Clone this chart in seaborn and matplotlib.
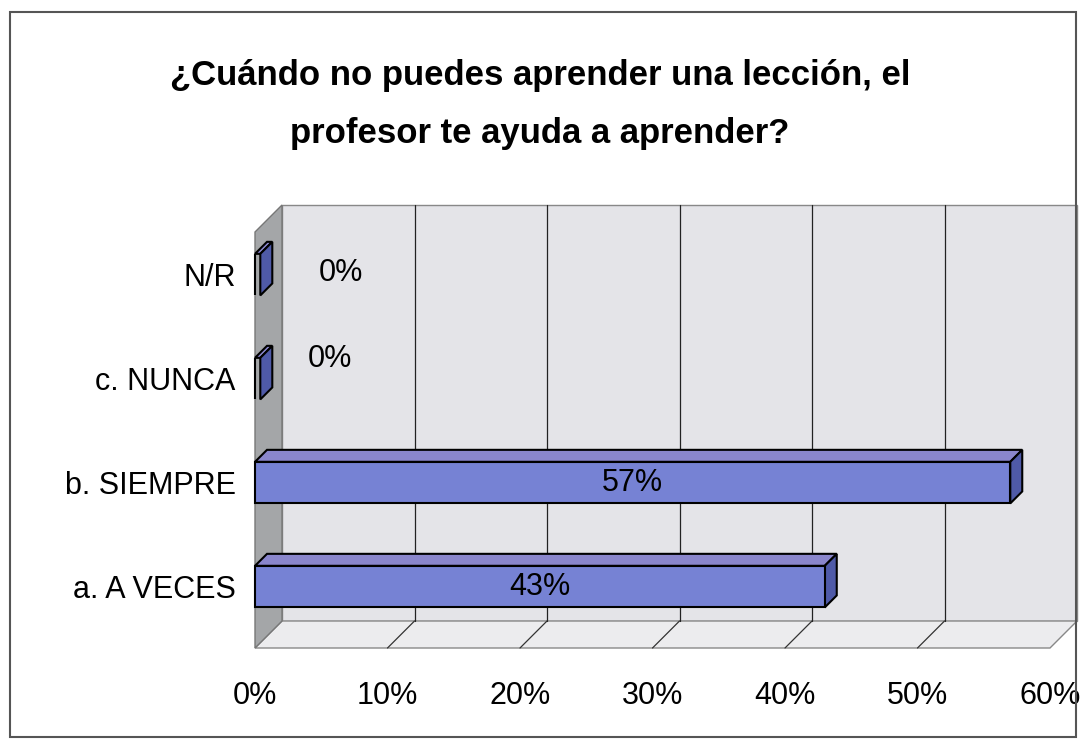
import matplotlib
matplotlib.use("Agg")
import matplotlib.pyplot as plt
import matplotlib.transforms as mtransforms
from matplotlib.patches import Polygon, Rectangle
import pandas as pd
import seaborn as sns

# Datos de la encuesta
categories = ["N/R", "c. NUNCA", "b. SIEMPRE", "a. A VECES"]
values = [0.0, 0.0, 0.57, 0.43]
value_labels = ["0%", "0%", "57%", "43%"]
xticks = [0.0, 0.1, 0.2, 0.3, 0.4, 0.5, 0.6]
xtick_labels = ["0%", "10%", "20%", "30%", "40%", "50%", "60%"]
title = "¿Cuándo no puedes aprender una lección, el\nprofesor te ayuda a aprender?"

BAR_COLOR = "#7682d4"
TOP_COLOR = "#8a86cc"
SIDE_COLOR = "#4f5aa8"
WALL_COLOR = "#e4e4e8"
FLOOR_COLOR = "#ececee"
SIDE_WALL = "#a4a6a8"

sns.set_style("white")
plt.rcParams["font.family"] = ["Liberation Sans Narrow", "Liberation Sans", "DejaVu Sans"]
plt.rcParams["text.color"] = "black"
plt.rcParams["xtick.color"] = "black"
plt.rcParams["ytick.color"] = "black"

df = pd.DataFrame({"cat": categories, "val": values})

fig = plt.figure(figsize=(10.8, 7.4), dpi=100)
fig.patch.set_facecolor("white")
# marco exterior del grafico
fig.add_artist(Rectangle((10 / 1080, 3 / 740), 1066 / 1080, 725 / 740, transform=fig.transFigure,
                         fill=False, edgecolor="#555555", lw=1.5))

ax = fig.add_axes([255 / 1080, 92 / 740, 795 / 1080, 416 / 740])
ax.set_xlim(0, 0.6)

# desplazamiento 3D (en pulgadas, dpi=100)
shift = mtransforms.ScaledTranslation(0.27, 0.27, fig.dpi_scale_trans)
back = ax.transAxes + shift
trans_x = mtransforms.blended_transform_factory(ax.transData, ax.transAxes)
back_x = trans_x + shift

# pared del fondo
ax.add_patch(Rectangle((0, 0), 1, 1, transform=back, facecolor=WALL_COLOR,
                       edgecolor="#888888", lw=1, zorder=0, clip_on=False))
for t in xticks[1:-1]:
    ax.plot([t, t], [0, 1], transform=back_x, color="#222222", lw=0.9, zorder=0.5, clip_on=False)

inv = fig.transFigure.inverted()
p0 = ax.transAxes.transform((0, 0))
p1 = ax.transAxes.transform((1, 0))
q0 = back.transform((0, 0))
q1 = back.transform((1, 0))
r0 = ax.transAxes.transform((0, 1))
r1 = back.transform((0, 1))

# piso
ax.add_patch(Polygon(inv.transform([p0, p1, q1, q0]), closed=True, transform=fig.transFigure,
                     facecolor=FLOOR_COLOR, edgecolor="#888888", lw=1, zorder=0.3, clip_on=False))
for t in xticks[1:-1]:
    a = trans_x.transform((t, 0))
    b = back_x.transform((t, 0))
    xs, ys = zip(*inv.transform([a, b]))
    ax.plot(xs, ys, transform=fig.transFigure, color="#333333", lw=0.9, zorder=0.6, clip_on=False)

# pared lateral
ax.add_patch(Polygon(inv.transform([p0, q0, r1, r0]), closed=True, transform=fig.transFigure,
                     facecolor=SIDE_WALL, edgecolor="#777777", lw=1, zorder=0.7, clip_on=False))

sns.barplot(data=df, x="val", y="cat", order=categories, color=BAR_COLOR,
            width=0.4, saturation=1, edgecolor="black", linewidth=1.5, ax=ax, zorder=3)
ax.set_ylim(3.59, -0.41)

# profundidad de las barras
off = mtransforms.ScaledTranslation(0.12, 0.12, fig.dpi_scale_trans)
bars = [p for p in ax.patches if p.get_zorder() == 3]
for p in bars:
    p.set_clip_on(False)
    x0, y0 = p.get_x(), p.get_y()
    w, h = p.get_width(), p.get_height()
    w_draw = max(w, 0.004)
    pts = [ax.transData.transform((x0, y0)), ax.transData.transform((x0 + w_draw, y0))]
    pts += [off.transform(pts[1]), off.transform(pts[0])]
    ax.add_patch(Polygon(inv.transform(pts), closed=True, transform=fig.transFigure,
                         facecolor=TOP_COLOR, edgecolor="black", lw=1.5, zorder=2.5, clip_on=False))
    a = ax.transData.transform((x0 + w_draw, y0))
    b = ax.transData.transform((x0 + w_draw, y0 + h))
    spts = [a, b, off.transform(b), off.transform(a)]
    ax.add_patch(Polygon(inv.transform(spts), closed=True, transform=fig.transFigure,
                         facecolor=SIDE_COLOR, edgecolor="black", lw=1.5, zorder=2.5, clip_on=False))

# etiquetas de valores
for i, (v, lab) in enumerate(zip(values, value_labels)):
    if v > 0.05:
        ax.text(v / 2, i, lab, ha="center", va="center", fontsize=22, color="black", zorder=5)
    else:
        ax.annotate(lab, (v, i), xytext=(46 if i == 0 else 38, 1 if i == 0 else 14),
                    textcoords="offset points", ha="left", va="center",
                    fontsize=22, color="black", zorder=5)

ax.set_xticks(xticks)
ax.set_xticklabels(xtick_labels, fontsize=22)
ax.tick_params(axis="x", length=0, pad=24)
ax.tick_params(axis="y", length=0, labelsize=22, pad=14)
ax.set_xlabel("")
ax.set_ylabel("")
ax.patch.set_visible(False)
for s in ax.spines.values():
    s.set_visible(False)

fig.suptitle(title, fontsize=25, fontweight="bold", y=0.92, linespacing=1.95)

fig.savefig("out.png", dpi=100)
